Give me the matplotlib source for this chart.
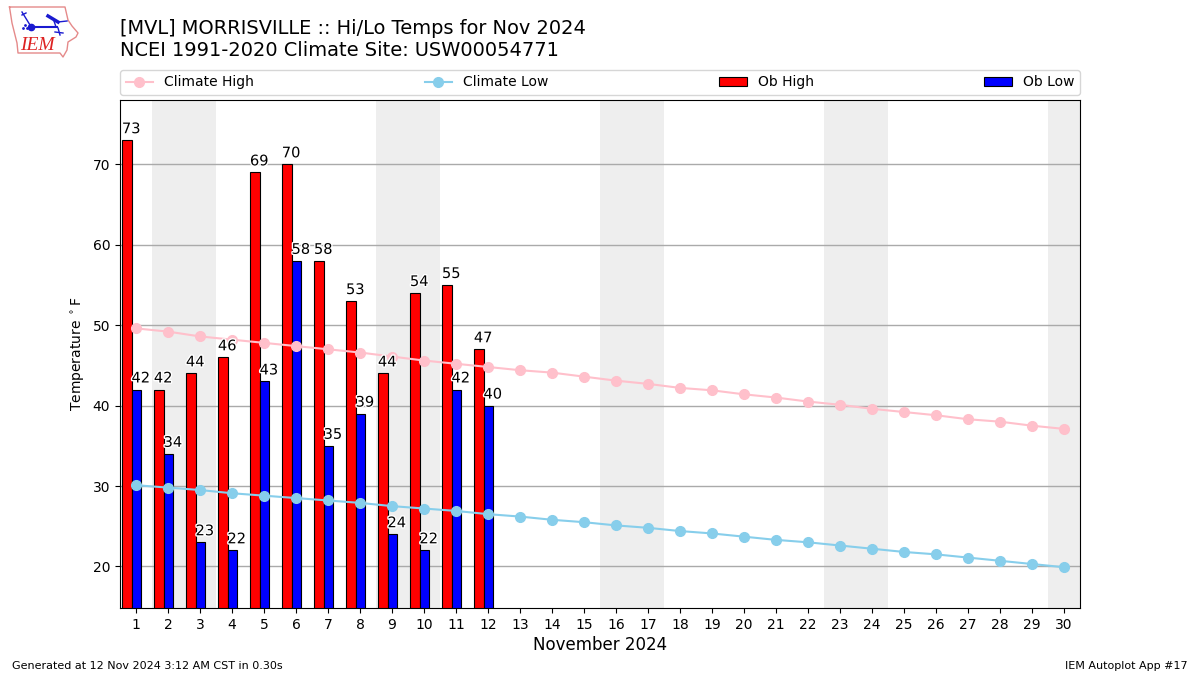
import numpy as np
import matplotlib
matplotlib.use('Agg')
import matplotlib.pyplot as plt
import matplotlib.patheffects as pe

days = list(range(1, 31))
ob_high = [73, 42, 44, 46, 69, 70, 58, 53, 44, 54, 55, 47]
ob_low = [42, 34, 23, 22, 43, 58, 35, 39, 24, 22, 42, 40]
clim_high = [49.6, 49.2, 48.6, 48.2, 47.8, 47.4, 47.0, 46.6, 46.1, 45.6, 45.2, 44.8, 44.4, 44.1, 43.6,
             43.1, 42.7, 42.2, 41.9, 41.4, 41.0, 40.5, 40.1, 39.6, 39.2, 38.8, 38.3, 38.0, 37.5, 37.1]
clim_low = [30.1, 29.8, 29.5, 29.1, 28.8, 28.5, 28.2, 27.9, 27.5, 27.2, 26.9, 26.5, 26.2, 25.8, 25.5,
            25.1, 24.8, 24.4, 24.1, 23.7, 23.3, 23.0, 22.6, 22.2, 21.8, 21.5, 21.1, 20.7, 20.3, 19.9]
weekend_starts = [2, 9, 16, 23, 30]
yticks = [20, 30, 40, 50, 60, 70]

W, H = 1200, 675

fig = plt.figure(figsize=(12, 6.75), dpi=100)
ax = fig.add_axes([120 / W, 1 - 608 / H, 960 / W, 508 / H])

# shaded weekends
for d in weekend_starts:
    ax.axvspan(d - 0.5, d + 1.5, color='#eeeeee', lw=0, zorder=0)

hi_x = np.arange(1, len(ob_high) + 1) - 0.29
lo_x = np.arange(1, len(ob_low) + 1) + 0.01
bars_hi = ax.bar(hi_x, ob_high, width=0.3, color='red', edgecolor='k', lw=0.8, label='Ob High', zorder=2)
bars_lo = ax.bar(lo_x, ob_low, width=0.3, color='blue', edgecolor='k', lw=0.8, label='Ob Low', zorder=2)
l1, = ax.plot(days, clim_high, color='pink', marker='o', ms=7, lw=1.5, label='Climate High', zorder=3)
l2, = ax.plot(days, clim_low, color='skyblue', marker='o', ms=7, lw=1.5, label='Climate Low', zorder=3)

halo = [pe.withStroke(linewidth=2, foreground='white')]
for x, v in zip(hi_x, ob_high):
    ax.text(x + 0.14, v + 0.5, str(v), ha='center', va='bottom', fontsize=10.5, zorder=4, path_effects=halo)
for x, v in zip(lo_x, ob_low):
    ax.text(x + 0.14, v + 0.5, str(v), ha='center', va='bottom', fontsize=10.5, zorder=4, path_effects=halo)

ax.set_xlim(0.5, 30.5)
ax.set_ylim(14.83, 78)
ax.set_xticks(days)
ax.set_yticks(yticks)
ax.tick_params(labelsize=10)
ax.grid(axis='y', color='#aaaaaa', lw=1, zorder=1)
ax.set_axisbelow(True)
ax.set_xlabel('November 2024', fontsize=12, labelpad=3)
ax.set_ylabel(r'Temperature $^\circ$F', fontsize=10, labelpad=4)

fig.legend(handles=[l1, l2, bars_hi, bars_lo], loc='lower left', mode='expand', ncol=4,
           bbox_to_anchor=(120 / W, 1 - 95 / H, 960 / W, 25 / H), fontsize=10, borderaxespad=0)

fig.text(120 / W, 1 - 29 / H, '[MVL] MORRISVILLE :: Hi/Lo Temps for Nov 2024', fontsize=13.95, va='center')
fig.text(120 / W, 1 - 50 / H, 'NCEI 1991-2020 Climate Site: USW00054771', fontsize=13.95, va='center')
fig.text(12 / W, 1 - 666 / H, 'Generated at 12 Nov 2024 3:12 AM CST in 0.30s', fontsize=8, va='center')
fig.text(1188 / W, 1 - 666 / H, 'IEM Autoplot App #17', fontsize=8, va='center', ha='right')

# logo, in pixel coordinates
logo = fig.add_axes([8 / W, 1 - 60 / H, 72 / W, 54 / H])
logo.set_xlim(8, 80)
logo.set_ylim(60, 6)
logo.axis('off')
outline_x = [9.5, 65, 68, 72, 78, 76, 68, 67, 63, 60, 18, 17, 12, 9.5]
outline_y = [7, 7, 20, 26, 33, 37, 42, 50, 57, 53, 53, 43, 23, 7]
logo.plot(outline_x, outline_y, color='#e58a8a', lw=1)
blue = '#1a1ad0'
logo.plot([31, 57], [27, 27], color=blue, lw=1.5)
logo.plot([31], [27], 'o', color=blue, ms=4.5)
logo.plot([22, 30], [12, 25], color=blue, lw=1)
logo.plot([22, 26], [15, 13], color=blue, lw=1)
logo.plot([48, 58], [16, 22], color=blue, lw=2.5)
logo.plot([58, 67], [22, 21], color=blue, lw=1)
logo.plot([54, 56], [21, 27], color=blue, lw=1)
logo.plot([58, 60], [28, 35], color=blue, lw=1)
logo.plot([55, 63], [32, 33], color=blue, lw=1)
logo.plot([23, 25, 27], [28, 25, 28], '.', color=blue, ms=2)
logo.text(20.5, 45, 'IEM', color='#d22', fontsize=14, family='Liberation Serif', style='italic', va='center')

fig.savefig('out.png', dpi=100)
